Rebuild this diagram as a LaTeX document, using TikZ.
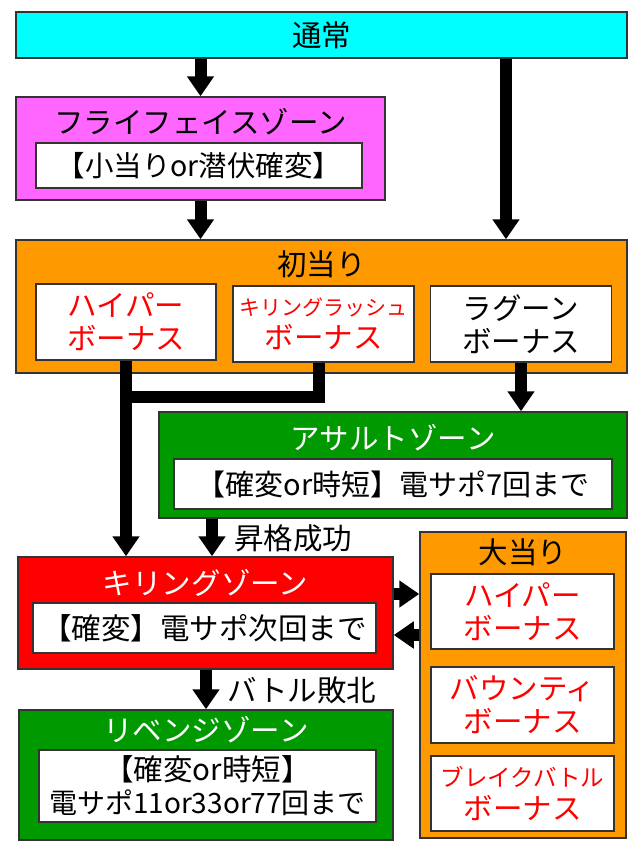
\documentclass[tikz,border=0pt]{standalone}
\usepackage{fontspec}
\setmainfont{Noto Sans CJK JP}
\usetikzlibrary{arrows.meta}
\definecolor{cyanbox}{HTML}{00FFFF}
\definecolor{magbox}{HTML}{FF66FF}
\definecolor{orabox}{HTML}{FF9900}
\definecolor{grnbox}{HTML}{009900}
\definecolor{redbox}{HTML}{FF0000}
\definecolor{redtext}{HTML}{FF0000}
\definecolor{edge}{HTML}{333333}
\tikzset{
  frame/.style={draw=edge, line width=1.5pt, inner sep=0pt},
  inbox/.style={frame, fill=white, align=center, font=\fontsize{29.5}{33}\selectfont},
  lbl/.style={font=\fontsize{29.5}{33}\selectfont, inner sep=0pt},
  flow/.style={line width=12pt, -{Triangle[width=26pt,length=20pt]}},
  bar/.style={line width=12pt},
}
\begin{document}
\begin{tikzpicture}[x=1pt,y=-1pt]
\useasboundingbox (0,0) rectangle (635,849);

% 通常
\node[frame, fill=cyanbox, minimum width=611pt, minimum height=46pt, font=\fontsize{29.5}{33}\selectfont] (tsujo) at (321.5,35) {通常};

% フライフェイスゾーン
\node[frame, fill=magbox, minimum width=369pt, minimum height=103pt] (fly) at (200.5,148.5) {};
\node[lbl] (flyt) at (200.5,122) {フライフェイスゾーン};
\node[inbox, minimum width=326pt, minimum height=45pt, font=\fontsize{28.5}{33}\selectfont] (flyi) at (199,165.5) {【小当りor潜伏確変】};

% 初当り
\node[frame, fill=orabox, minimum width=611pt, minimum height=133pt] (hatsu) at (321.5,306.5) {};
\node[lbl] (hatsut) at (321.5,264) {初当り};
\node[inbox, minimum width=180pt, minimum height=76pt, text=redtext] (h1) at (126,322) {ハイパー\\ボーナス};
\node[inbox, minimum width=181pt, minimum height=76pt, text=redtext] (h2) at (323.5,324) {{\fontsize{21}{21}\selectfont キリングラッシュ}\\ボーナス};
\node[inbox, minimum width=181pt, minimum height=76pt] (h3) at (521,324) {ラグーン\\ボーナス};

% アサルトゾーン
\node[frame, fill=grnbox, minimum width=468pt, minimum height=106pt] (assault) at (393,465) {};
\node[lbl, text=white] (assaultt) at (393,438) {アサルトゾーン};
\node[inbox, minimum width=438pt, minimum height=50pt, font=\fontsize{29}{33}\selectfont] (assaulti) at (393,484) {【確変or時短】電サポ7回まで};

% キリングゾーン
\node[frame, fill=redbox, minimum width=375pt, minimum height=112pt] (kz) at (205.5,613) {};
\node[lbl, text=white] (kzt) at (205.5,583) {キリングゾーン};
\node[inbox, minimum width=343pt, minimum height=50pt] (kzi) at (204.5,628) {【確変】電サポ次回まで};

% リベンジゾーン
\node[frame, fill=grnbox, minimum width=374pt, minimum height=130pt] (rev) at (206,775) {};
\node[lbl, text=white] (revt) at (206,730) {リベンジゾーン};
\node[inbox, minimum width=337pt, minimum height=72pt] (revi) at (207.5,786) {【確変or時短】\\{\fontsize{28}{28}\selectfont 電サポ11or33or77回まで}};

% 大当り
\node[frame, fill=orabox, minimum width=206pt, minimum height=306pt] (dai) at (523,685) {};
\node[lbl] (dait) at (523,552) {大当り};
\node[inbox, minimum width=183pt, minimum height=75pt, text=redtext] (d1) at (522.5,611.5) {ハイパー\\ボーナス};
\node[inbox, minimum width=183pt, minimum height=76pt, text=redtext] (d2) at (522.5,705) {バウンティ\\ボーナス};
\node[inbox, minimum width=183pt, minimum height=75pt, text=redtext] (d3) at (522.5,793.5) {{\fontsize{23.5}{23.5}\selectfont ブレイクバトル}\\ボーナス};

% connectors
\coordinate (c1) at (506,0);
\coordinate (c2) at (212,0);
\coordinate (c3) at (0,594);
\coordinate (c4) at (0,635);
\coordinate (j) at (126,397);
\coordinate (j2) at (319,397);

\draw[flow] (tsujo.south -| fly.north) -- (fly.north);
\draw[flow] (tsujo.south -| c1) -- (hatsu.north -| c1);
\draw[flow] (fly.south) -- (fly.south |- hatsu.north);
\draw[flow] (h1.south) -- (h1.south |- kz.north);
\draw[bar] (h2.south -| j2) -- (j2) -- (j);
\draw[flow] (h3.south) -- (h3.south |- assault.north);
\draw[flow] (assault.south -| c2) -- (kz.north -| c2);
\draw[flow] (kz.east |- c3) -- (dai.west |- c3);
\draw[flow] (dai.west |- c4) -- (kz.east |- c4);
\draw[flow] (kz.south -| rev.north) -- (rev.north);

\node[lbl] (l1) at (293,538) {昇格成功};
\node[lbl] (l2) at (302,690) {バトル敗北};
\end{tikzpicture}
\end{document}
